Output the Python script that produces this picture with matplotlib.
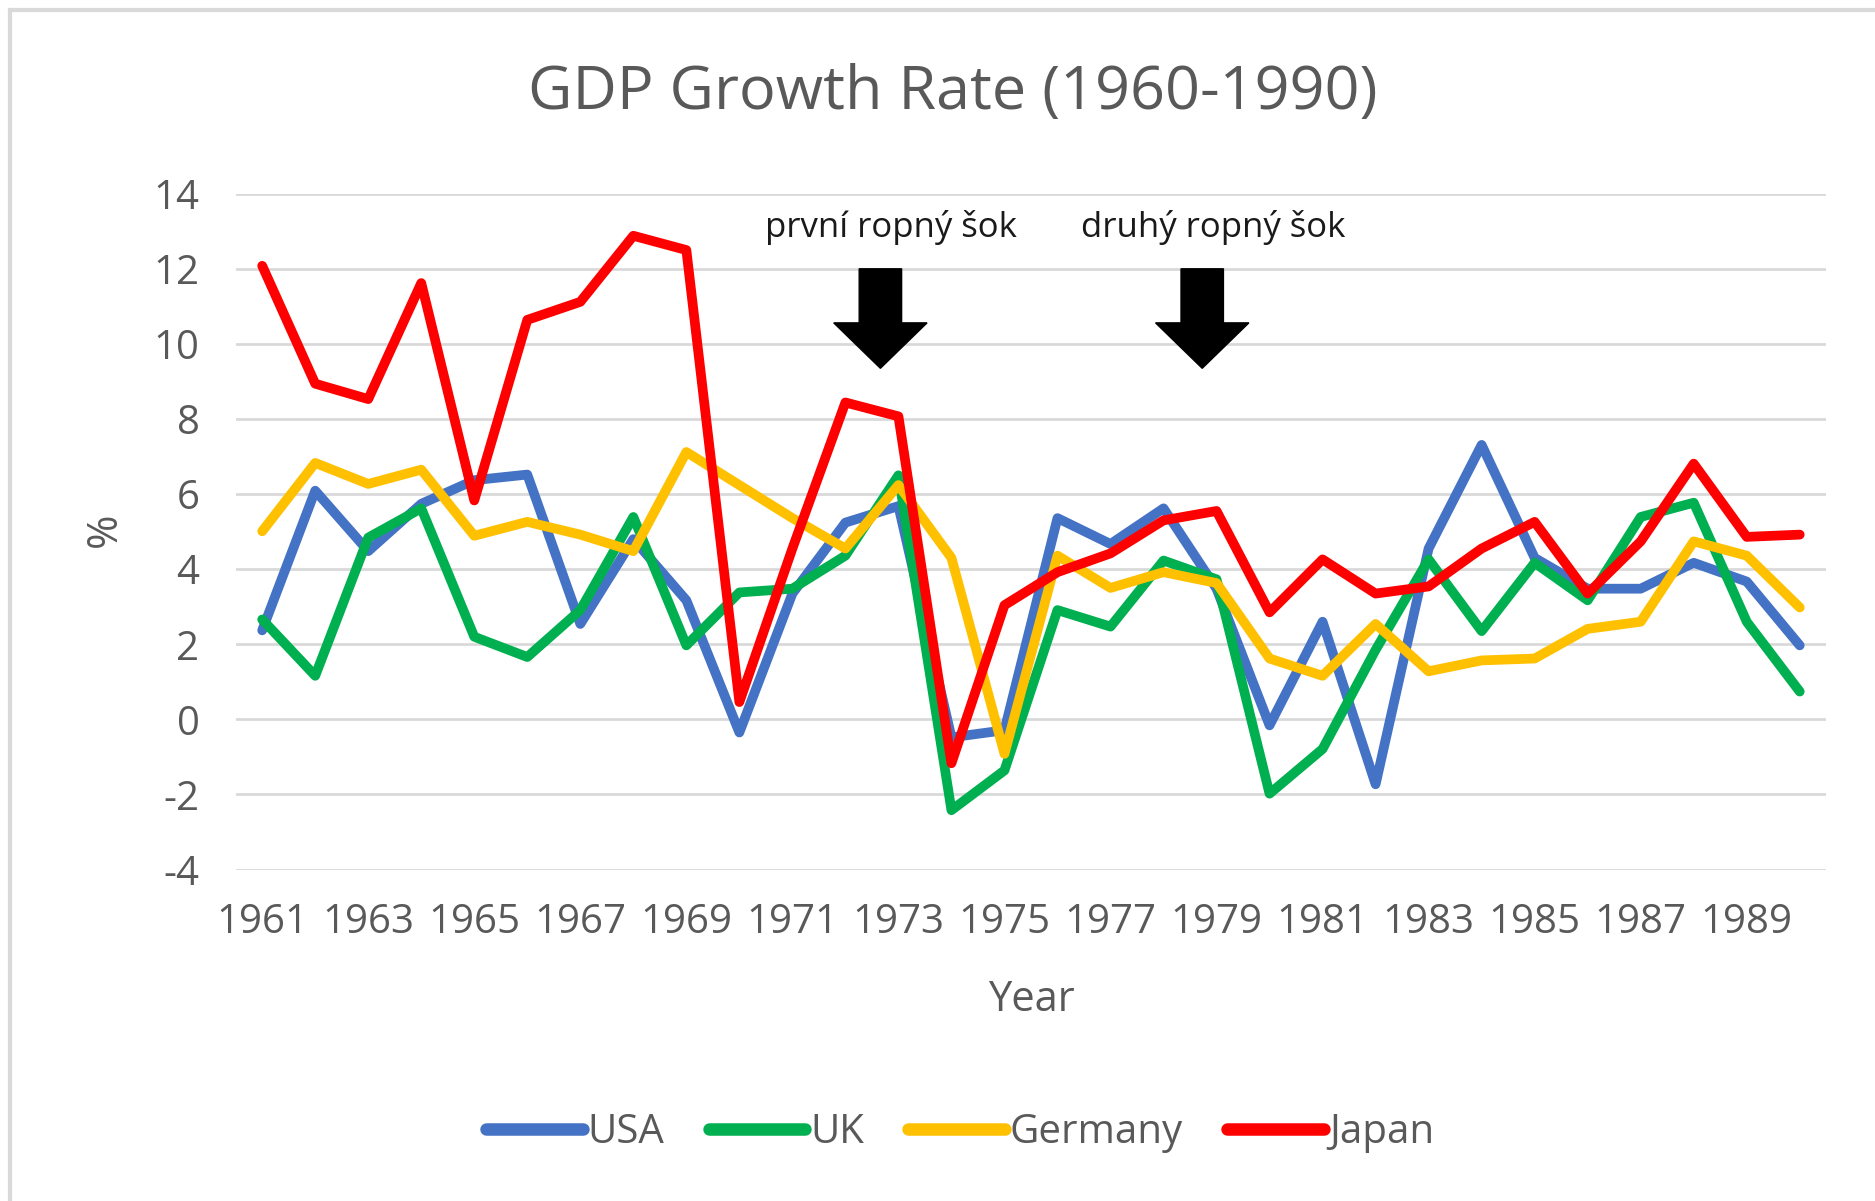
import matplotlib
matplotlib.use('Agg')
import matplotlib.pyplot as plt
from matplotlib.patches import FancyArrow
from matplotlib.lines import Line2D

plt.rcParams['font.family'] = ['Open Sans', 'DejaVu Sans']
plt.rcParams['axes.unicode_minus'] = False

# Data
years = list(range(1961, 1991))
usa = [2.37, 6.09, 4.48, 5.74, 6.37, 6.52, 2.54, 4.80, 3.17, -0.35,
       3.35, 5.24, 5.68, -0.48, -0.29, 5.36, 4.67, 5.62, 3.48, -0.16,
       2.60, -1.73, 4.55, 7.31, 4.30, 3.48, 3.48, 4.17, 3.67, 1.97]
uk = [2.66, 1.16, 4.84, 5.62, 2.20, 1.66, 2.91, 5.39, 1.97, 3.38,
      3.48, 4.36, 6.50, -2.42, -1.36, 2.91, 2.47, 4.23, 3.73, -1.98,
      -0.79, 1.85, 4.26, 2.35, 4.17, 3.17, 5.39, 5.77, 2.60, 0.74]
germany = [5.01, 6.83, 6.27, 6.65, 4.89, 5.26, 4.92, 4.48, 7.12, 6.24,
           5.36, 4.55, 6.24, 4.30, -0.92, 4.36, 3.50, 3.92, 3.63, 1.62,
           1.16, 2.54, 1.28, 1.57, 1.62, 2.41, 2.60, 4.74, 4.36, 2.98]
japan = [12.08, 8.94, 8.53, 11.62, 5.83, 10.64, 11.12, 12.88, 12.50, 0.46,
         4.55, 8.44, 8.07, -1.17, 3.04, 3.92, 4.42, 5.30, 5.55, 2.85,
         4.26, 3.35, 3.54, 4.55, 5.26, 3.35, 4.74, 6.81, 4.86, 4.92]

series = [('USA', usa, '#4472C4'),
          ('UK', uk, '#00B050'),
          ('Germany', germany, '#FFC000'),
          ('Japan', japan, '#FF0000')]

# Oil shock annotations (position in year, label)
shocks = [(1972.66, 'první ropný šok'), (1978.73, 'druhý ropný šok')]

text_color = '#595959'

fig = plt.figure(figsize=(18.75, 12.01), dpi=100)
ax = fig.add_axes([0.1257, 0.276, 0.974 - 0.1257, 0.8387 - 0.276])

x_positions = list(range(len(years)))
for name, vals, color in series:
    ax.plot(x_positions, vals, color=color, linewidth=7, label=name,
            solid_joinstyle='round', solid_capstyle='round', zorder=3)

ax.set_xlim(-0.5, len(years) - 0.5)
ax.set_ylim(-4, 14)
ax.set_yticks(range(-4, 15, 2))
ax.set_xticks(x_positions[::2])
ax.set_xticklabels([str(y) for y in years[::2]])

ax.grid(axis='y', color='#D9D9D9', linewidth=2)
ax.set_axisbelow(True)
for s in ax.spines.values():
    s.set_visible(False)
ax.tick_params(axis='both', length=0, colors=text_color, labelsize=29)
ax.tick_params(axis='y', pad=26)
ax.tick_params(axis='x', pad=24)

# Block arrows and labels for oil shocks
for yr, label in shocks:
    xi = yr - years[0]
    ax.add_patch(FancyArrow(xi, 12.0, 0, -2.65, width=0.8, head_width=1.76,
                            head_length=1.21, length_includes_head=True,
                            color='black', zorder=4))
    ax.text(xi + 0.2, 13.1, label, ha='center', va='center', fontsize=25,
            color='#1a1a1a')

fig.text(0.508, 1 - 93 / 1201, 'GDP Growth Rate (1960-1990)', ha='center',
         va='center', fontsize=44, color=text_color)
fig.text(0.55, 1 - 1000 / 1201, 'Year', ha='center', va='center',
         fontsize=30, color=text_color)
fig.text(105 / 1875, 1 - 530 / 1201, '%', ha='center', va='center',
         fontsize=30, color=text_color, rotation=90)

handles = [Line2D([], [], color=c, linewidth=9, solid_capstyle='round')
           for _, _, c in series]
fig.legend(handles, [n for n, _, _ in series], loc='center',
           bbox_to_anchor=(0.512, 1 - 1133 / 1201), ncol=4, frameon=False,
           fontsize=29, handlelength=2.4, handletextpad=0.12,
           columnspacing=1.1, labelcolor=text_color)

# Light grey chart border (top and left visible)
fig.add_artist(Line2D([10 / 1875, 10 / 1875], [0, 1 - 10 / 1201],
                      transform=fig.transFigure, color='#D9D9D9', linewidth=3))
fig.add_artist(Line2D([10 / 1875, 1], [1 - 10 / 1201, 1 - 10 / 1201],
                      transform=fig.transFigure, color='#D9D9D9', linewidth=3))

fig.savefig('out.png', dpi=100)
